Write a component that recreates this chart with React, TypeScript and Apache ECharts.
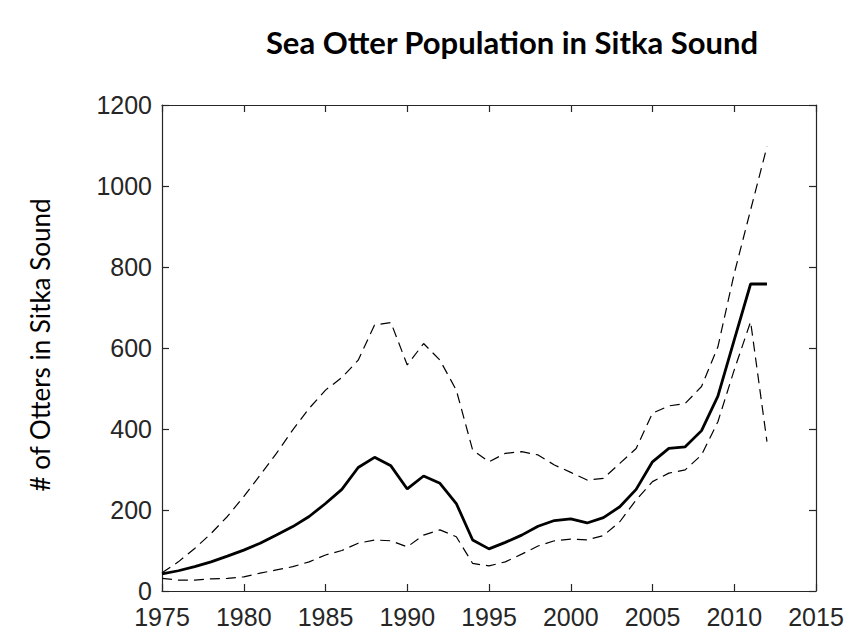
import React, { useEffect, useRef } from "react";
import * as echarts from "echarts";

const years = [
  1975, 1976, 1977, 1978, 1979, 1980, 1981, 1982, 1983, 1984,
  1985, 1986, 1987, 1988, 1989, 1990, 1991, 1992, 1993, 1994,
  1995, 1996, 1997, 1998, 1999, 2000, 2001, 2002, 2003, 2004,
  2005, 2006, 2007, 2008, 2009, 2010, 2011, 2012,
];

const meanPop = [
  42, 50, 60, 72, 86, 101, 118, 138, 159, 184,
  216, 251, 305, 330, 309, 252, 284, 266, 216, 126,
  104, 120, 138, 160, 174, 178, 168, 181, 208, 251,
  319, 352, 356, 396, 481, 620, 758, 758,
];

const upperBound = [
  45, 72, 105, 142, 184, 233, 286, 340, 398, 451,
  496, 527, 570, 657, 663, 558, 611, 570, 496, 348,
  319, 340, 344, 336, 311, 293, 274, 278, 315, 352,
  439, 457, 463, 505, 603, 784, 941, 1097,
];

const lowerBound = [
  31, 27, 27, 30, 31, 35, 44, 52, 60, 72,
  89, 100, 118, 126, 124, 109, 138, 151, 134, 68,
  62, 72, 91, 111, 124, 128, 126, 137, 171, 225,
  270, 291, 299, 336, 418, 546, 665, 369,
];

const titleText = "Sea Otter Population in Sitka Sound";
const yLabelText = "# of Otters in Sitka Sound";

const pairs = (vals: number[]) => years.map((y, i) => [y, vals[i]]);

export default function App() {
  const ref = useRef<HTMLDivElement>(null);
  useEffect(() => {
    if (!ref.current) return;
    const chart = echarts.init(ref.current, undefined, { renderer: "svg" });
    const axisColor = "#262626";
    const tickFont = {
      color: axisColor,
      fontFamily: "Liberation Sans, Arial, sans-serif",
      fontSize: 25,
    };
    const lineStyle = { color: axisColor, width: 1.2 };
    chart.setOption({
      animation: false,
      backgroundColor: "#ffffff",
      title: {
        text: titleText,
        left: 507,
        top: 21,
        textAlign: "center",
        textStyle: {
          fontFamily: "Lato, Noto Sans, sans-serif",
          fontWeight: "bold",
          fontSize: 31,
          color: "#000000",
        },
      },
      graphic: [
        {
          type: "text",
          x: 40,
          y: 345,
          rotation: Math.PI / 2,
          style: {
            text: yLabelText,
            fontFamily: "Lato, Noto Sans, sans-serif",
            fontSize: 26,
            fill: "#000000",
            align: "center",
            verticalAlign: "middle",
          },
        },
      ],
      grid: { left: 162, right: 36, top: 105, bottom: 42, containLabel: false },
      xAxis: [
        {
          type: "value",
          min: 1975,
          max: 2015,
          interval: 5,
          position: "bottom",
          axisLine: { show: true, onZero: false, lineStyle },
          axisTick: { show: true, inside: true, length: 7, lineStyle },
          axisLabel: { ...tickFont, margin: 13, formatter: (v: number) => String(v) },
          splitLine: { show: false },
        },
        {
          type: "value",
          min: 1975,
          max: 2015,
          interval: 5,
          position: "top",
          axisLine: { show: true, onZero: false, lineStyle },
          axisTick: { show: true, inside: true, length: 7, lineStyle },
          axisLabel: { show: false },
          splitLine: { show: false },
        },
      ],
      yAxis: [
        {
          type: "value",
          min: 0,
          max: 1200,
          interval: 200,
          position: "left",
          axisLine: { show: true, onZero: false, lineStyle },
          axisTick: { show: true, inside: true, length: 7, lineStyle },
          axisLabel: { ...tickFont, margin: 10, formatter: (v: number) => String(v) },
          splitLine: { show: false },
        },
        {
          type: "value",
          min: 0,
          max: 1200,
          interval: 200,
          position: "right",
          axisLine: { show: true, onZero: false, lineStyle },
          axisTick: { show: true, inside: true, length: 7, lineStyle },
          axisLabel: { show: false },
          splitLine: { show: false },
        },
      ],
      series: [
        {
          name: "Upper",
          type: "line",
          data: pairs(upperBound),
          showSymbol: false,
          lineStyle: { color: "#000000", width: 1.2, type: [10, 6] },
          z: 2,
        },
        {
          name: "Lower",
          type: "line",
          data: pairs(lowerBound),
          showSymbol: false,
          lineStyle: { color: "#000000", width: 1.2, type: [10, 6] },
          z: 2,
        },
        {
          name: "Mean",
          type: "line",
          data: pairs(meanPop),
          showSymbol: false,
          lineStyle: { color: "#000000", width: 2.8 },
          z: 3,
        },
      ],
    });
    return () => chart.dispose();
  }, []);
  return (
    <div
      ref={ref}
      style={{ position: "absolute", left: 0, top: 0, width: 852, height: 633 }}
    />
  );
}
